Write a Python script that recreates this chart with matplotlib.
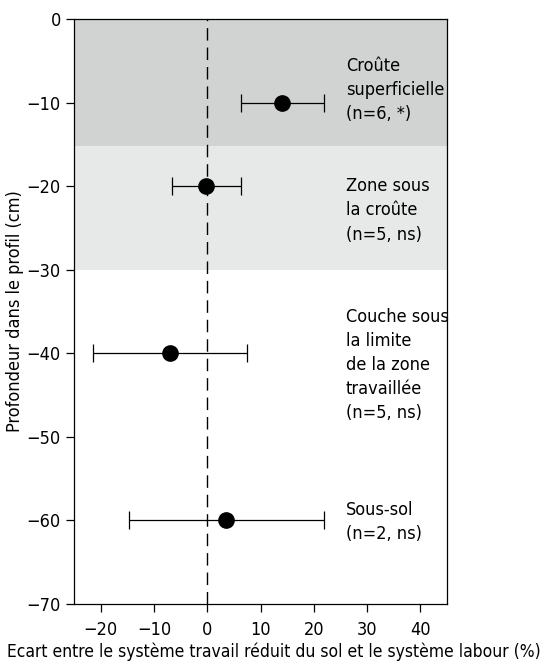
import matplotlib
matplotlib.use("Agg")
import matplotlib.pyplot as plt
from matplotlib import font_manager

cond = [f for f in font_manager.fontManager.ttflist
        if str(f.stretch) in ("condensed", "semi-condensed", "575", "600", "625", "650", "700", "750")
        and f.style == "normal" and f.weight in (400, "normal", "regular")]
if cond:
    fam = cond[0].name
    stretch = cond[0].stretch
    fsize = 13
else:
    fam = "Liberation Sans"
    stretch = "normal"
    fsize = 12.5
plt.rcParams['font.family'] = [fam, 'DejaVu Sans']
plt.rcParams['font.stretch'] = stretch

# Data
depths = [-10, -20, -40, -60]
means = [14.1, -0.2, -6.9, 3.6]
lower = [6.4, -6.6, -21.4, -14.7]
upper = [21.9, 6.25, 7.5, 21.9]
labels = ["Croûte\nsuperficielle\n(n=6, *)",
          "Zone sous\nla croûte\n(n=5, ns)",
          "Couche sous\nla limite\nde la zone\ntravaillée\n(n=5, ns)",
          "Sous-sol\n(n=2, ns)"]
label_y = [-8.5, -22.9, -41.4, -60.2]
bands = [(-15.2, 0, "#d1d2d2"), (-30, -15.2, "#e7e8e8")]
xticks = [-20, -10, 0, 10, 20, 30, 40]
yticks = [0, -10, -20, -30, -40, -50, -60, -70]

fig = plt.figure(figsize=(5.48, 6.68), dpi=100)
ax = fig.add_axes([74/548, 64/668, 373/548, 585/668])

for lo, hi, c in bands:
    ax.axhspan(lo, hi, color=c, zorder=0, lw=0)

ax.axvline(0, color="black", lw=1.0, dashes=(9, 5), zorder=1)

xerr = [[m - l for m, l in zip(means, lower)], [u - m for m, u in zip(means, upper)]]
ax.errorbar(means, depths, xerr=xerr, fmt='o', color='black', ms=11,
            ecolor='black', elinewidth=0.9, capsize=6.5, capthick=0.9, zorder=3)

for t, y in zip(labels, label_y):
    ax.text(26, y, t, ha='left', va='center', fontsize=fsize, linespacing=1.44)

ax.set_xlim(-25, 45)
ax.set_ylim(-70, 0)
ax.set_xticks(xticks)
ax.set_yticks(yticks)
ax.set_xticklabels([str(v).replace('-', '\u2212') for v in xticks])
ax.set_yticklabels([str(v).replace('-', '\u2212') for v in yticks])
ax.tick_params(axis='both', labelsize=fsize, length=6, width=0.9, direction='out')
ax.tick_params(axis='x', pad=6)
for s in ax.spines.values():
    s.set_linewidth(0.9)

ax.set_xlabel("Ecart entre le système travail réduit du sol et le système labour (%)",
              fontsize=12.5)
ax.xaxis.set_label_coords((274 - 74) / 373, -(652 - 604) / 585)
ax.xaxis.label.set_va('center')
ax.set_ylabel("Profondeur dans le profil (cm)", fontsize=fsize)
ax.yaxis.set_label_coords(-(74 - 15) / 373, 0.5)
ax.yaxis.label.set_va('center')

fig.savefig("out.png", dpi=100)
